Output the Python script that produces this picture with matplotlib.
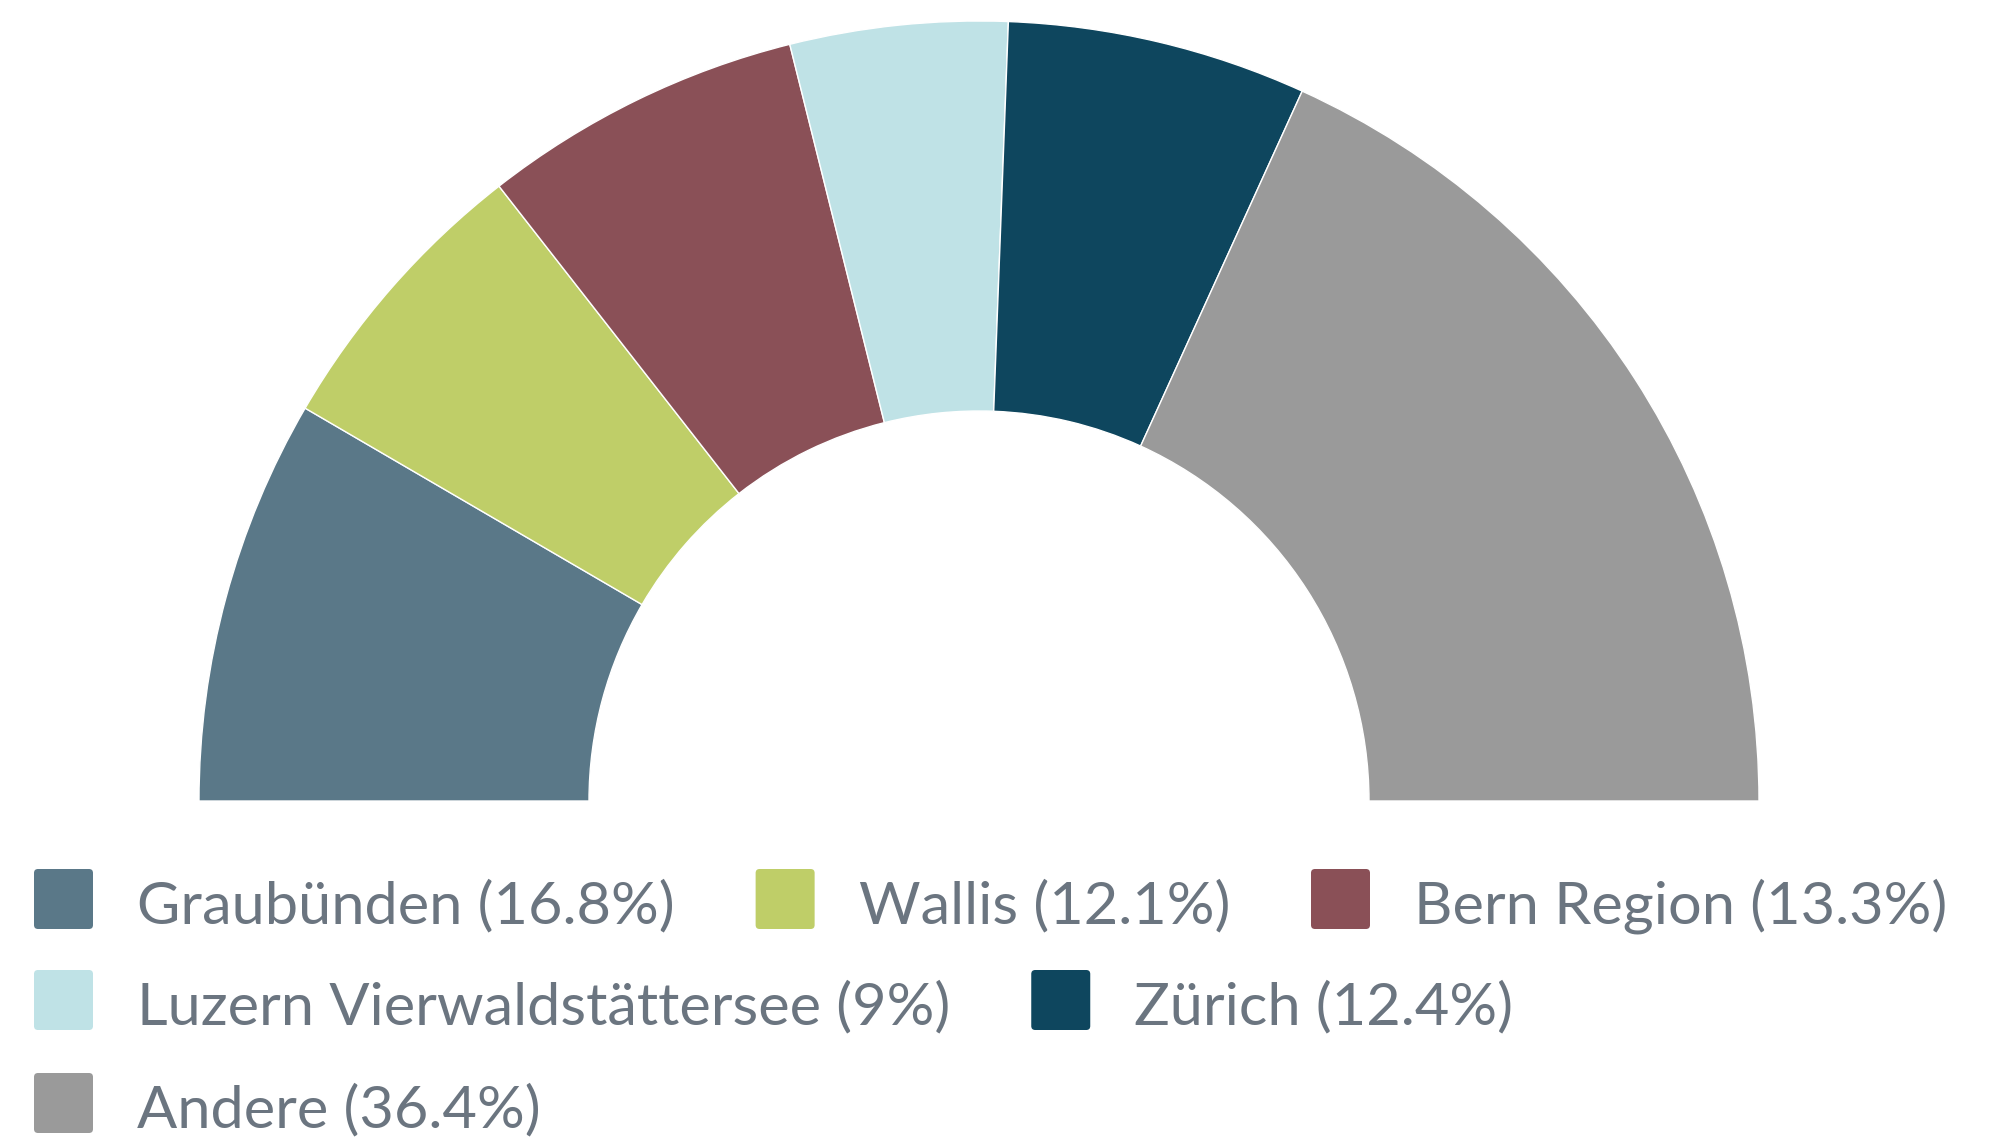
import matplotlib
matplotlib.use("Agg")
import matplotlib.pyplot as plt
from matplotlib.patches import FancyBboxPatch

categories = ["Graubünden", "Wallis", "Bern Region", "Luzern Vierwaldstättersee", "Zürich", "Andere"]
shares = [16.8, 12.1, 13.3, 9, 12.4, 36.4]
share_labels = ["16.8%", "12.1%", "13.3%", "9%", "12.4%", "36.4%"]
colors = ["#5A7888", "#BFCE68", "#8A5057", "#BFE2E6", "#0E465E", "#9A9A9A"]

W, H = 1993, 1143
fig = plt.figure(figsize=(W / 100, H / 100), dpi=100)
ax = fig.add_axes([0, 0, 1, 1])

cx, cy, R = 979, 801, 780
total = sum(shares)
wedges, _ = ax.pie(shares + [total], startangle=180, counterclock=True,
                   colors=colors + ["none"], center=(cx, cy), radius=R,
                   wedgeprops=dict(width=R * 0.5, linewidth=1.0, edgecolor="white"),
                   frame=True)
# y axis inverted: counterclock=True in data => clockwise visually
wedges[-1].set_visible(False)
ax.set_xlim(0, W)
ax.set_ylim(H, 0)
ax.set_aspect("auto")
ax.axis("off")

# legend flow layout
fig.canvas.draw()
renderer = fig.canvas.get_renderer()
text_color = "#6B7580"
sw, sh = 59, 60
x0 = 34
row_base = [923, 1024, 1127]
gap_text = 44
gap_item = 81
max_x = W - 20
row = 0
x = x0
for cat, lab, col in zip(categories, share_labels, colors):
    label = f"{cat} ({lab})"
    t = ax.text(0, 0, label, fontsize=42.8, family=["Lato", "DejaVu Sans"], color=text_color)
    wpx = t.get_window_extent(renderer).width
    item_w = sw + gap_text + wpx
    if x + item_w > max_x and x > x0:
        row += 1
        x = x0
    base = row_base[row]
    t.set_position((x + sw + gap_text, base))
    t.set_va("baseline")
    ax.add_patch(FancyBboxPatch((x + 4, base - 54 + 4), sw - 8, sh - 8,
                                boxstyle="round,pad=4", facecolor=col, edgecolor="none"))
    x += item_w + gap_item

fig.savefig("out.png", dpi=100)
